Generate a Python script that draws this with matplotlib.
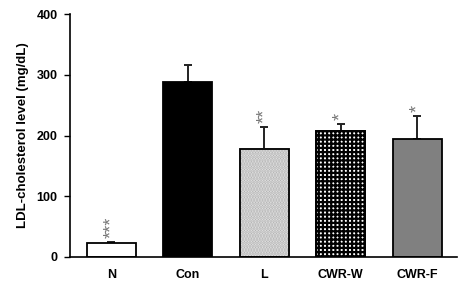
import matplotlib.pyplot as plt

# LDL-cholesterol per group
groups = ['N', 'Con', 'L', 'CWR-W', 'CWR-F']
means = [23, 288, 178, 207, 194]
errors = [2, 28, 36, 12, 38]
marks = ['***', '', '**', '*', '*']

faces = ['white', 'black', '#ececec', 'white', '#808080']
hatches = [None, None, '......', '++++', None]
hatch_cols = ['black', 'black', '#b0b0b0', 'black', 'black']

plt.rcParams['font.family'] = ['Liberation Sans', 'DejaVu Sans']
plt.rcParams['hatch.linewidth'] = 1.6

fig = plt.figure(figsize=(4.64, 2.94), dpi=100)
ax = fig.add_axes([0.151, 0.126, 0.834, 0.826])

x = range(len(groups))
for i in x:
    b = ax.bar(i, means[i], width=0.64, color=faces[i], edgecolor='black',
               linewidth=1.3, hatch=hatches[i], zorder=2)
    if hatches[i]:
        b[0].set_edgecolor(hatch_cols[i])
        # redraw the outline in black
        ax.bar(i, means[i], width=0.64, fill=False, edgecolor='black',
               linewidth=1.3, zorder=3)
    ax.errorbar(i, means[i], yerr=[[0], [errors[i]]], fmt='none',
                ecolor='#222222', elinewidth=1.4, capsize=3, capthick=1.4, zorder=1)
    if marks[i]:
        ax.text(i, means[i] + errors[i] + 6, marks[i], rotation=90,
                ha='center', va='bottom', fontsize=13, color='#777777')

ax.set_xlim(-0.54, 4.52)
ax.set_ylim(0, 400)
ax.set_yticks([0, 100, 200, 300, 400])
ax.set_xticks(list(x))
ax.set_xticklabels(groups, fontsize=9, fontweight='bold')
ax.tick_params(axis='x', length=0, pad=9)
ax.tick_params(axis='y', direction='out', length=4, width=1, labelsize=9, pad=5)
for lbl in ax.get_yticklabels():
    lbl.set_fontweight('bold')
ax.spines['top'].set_visible(False)
ax.spines['right'].set_visible(False)
ax.spines['left'].set_linewidth(1.2)
ax.spines['bottom'].set_linewidth(1.2)
ax.set_ylabel('LDL-cholesterol level (mg/dL)', fontsize=9.5, fontweight='bold', labelpad=5)

fig.savefig('out.png', dpi=100)
